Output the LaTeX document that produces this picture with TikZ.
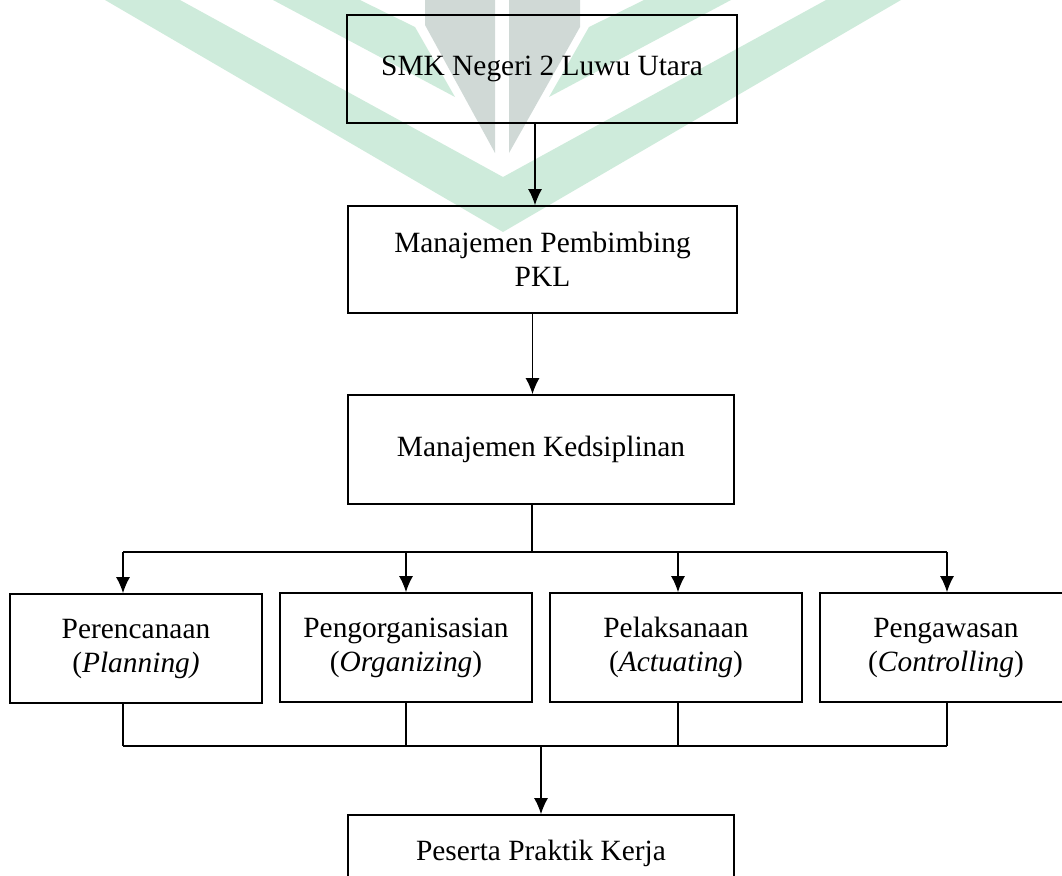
\documentclass[tikz,border=0pt]{standalone}
\usepackage{fontspec}
\setmainfont{Liberation Serif}
\usepackage{tikz}
\usetikzlibrary{arrows.meta}
\definecolor{hijau}{RGB}{206,235,219}
\definecolor{abu}{RGB}{208,217,214}

\begin{document}
\begin{tikzpicture}[x=1pt, y=-1pt, >={Latex[length=16pt,width=14pt]},
  kotak/.style={draw, line width=1.8pt, align=center, inner sep=0pt,
    font=\fontsize{29.4}{34}\selectfont},
  garis/.style={line width=1.2pt},
  rel/.style={line width=2.4pt}]

  \useasboundingbox (0,0) rectangle (1062,875);

  % watermark
  \fill[hijau] (105,0) -- (180,0) -- (503,177) -- (826,0) -- (901,0) -- (503,232) -- cycle;
  \fill[hijau] (273,0) -- (360,0) -- (415,27) -- (455,97) -- cycle;
  \fill[hijau] (731,0) -- (644,0) -- (589,27) -- (549,97) -- cycle;
  \fill[abu] (425,0) -- (495,0) -- (495,153) -- (425,25) -- cycle;
  \fill[abu] (509,0) -- (580,0) -- (580,27) -- (509,153) -- cycle;

  \node[kotak, minimum width=390pt, minimum height=108pt] (smk) at (542,69) {SMK Negeri 2 Luwu Utara};
  \node[kotak, minimum width=389pt, minimum height=107pt] (pkl) at (542.5,259.5) {Manajemen Pembimbing\\PKL};
  \node[kotak, minimum width=386pt, minimum height=109pt] (kds) at (541,449.5) {Manajemen Kedsiplinan};

  \node[kotak, minimum width=252pt, minimum height=109pt] (p1) at (136,648.5) {Perencanaan\\(\textit{Planning)}};
  \node[kotak, minimum width=252pt, minimum height=109pt] (p2) at (406,647.5) {Pengorganisasian\\(\textit{Organizing})};
  \node[kotak, minimum width=252pt, minimum height=109pt] (p3) at (676,647.5) {Pelaksanaan\\(\textit{Actuating})};
  \node[kotak, minimum width=252pt, minimum height=109pt] (p4) at (946,647.5) {Pengawasan\\(\textit{Controlling})};

  \node[kotak, minimum width=386pt, minimum height=76pt] (psr) at (541,853) {Peserta Praktik Kerja};

  \coordinate (a1) at ([xshift=-7pt]smk.south);
  \coordinate (a2) at ([xshift=-10pt]pkl.south);
  \draw[garis,->] (a1) -- (a1 |- pkl.north);
  \draw[garis,->] (a2) -- (a2 |- kds.north);

  % cabang atas
  \coordinate (pecah) at (532,552);
  \coordinate (t1) at (123,552);
  \coordinate (t2) at (406,552);
  \coordinate (t3) at (678,552);
  \coordinate (t4) at (947,552);
  \draw[garis] (pecah |- kds.south) -- (pecah);
  \draw[rel] (t1) -- (t4);
  \draw[garis,->] (t1) -- (t1 |- p1.north);
  \draw[garis,->] (t2) -- (t2 |- p2.north);
  \draw[garis,->] (t3) -- (t3 |- p3.north);
  \draw[garis,->] (t4) -- (t4 |- p4.north);

  % cabang bawah
  \coordinate (gabung) at (541,746);
  \coordinate (u1) at (123,746);
  \coordinate (u2) at (406,746);
  \coordinate (u3) at (678,746);
  \coordinate (u4) at (947,746);
  \draw[garis] (u1 |- p1.south) -- (u1);
  \draw[garis] (u2 |- p2.south) -- (u2);
  \draw[garis] (u3 |- p3.south) -- (u3);
  \draw[garis] (u4 |- p4.south) -- (u4);
  \draw[rel] (u1) -- (u4);
  \draw[garis,->] (gabung) -- (gabung |- psr.north);

\end{tikzpicture}
\end{document}
